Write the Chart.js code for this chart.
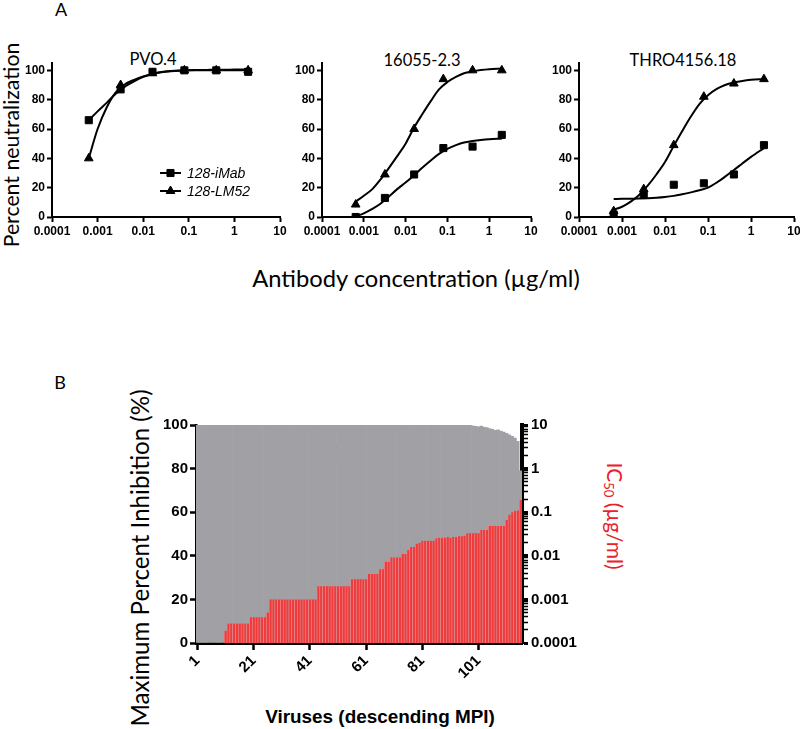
<!DOCTYPE html>
<html><head><meta charset="utf-8">
<script src="https://cdn.jsdelivr.net/npm/chart.js@4.4.1/dist/chart.umd.min.js"></script>
<style>
html,body{margin:0;padding:0;background:#fff;overflow:hidden;width:800px;height:729px;position:relative;}
canvas{position:absolute;}
.t{position:absolute;white-space:nowrap;color:#000;line-height:1;font-family:Lato,'Open Sans',sans-serif;transform:translate(-50%,-50%);}
.rot{transform:translate(-50%,-50%) rotate(-90deg);}
.rotR{transform:translate(-50%,-50%) rotate(90deg);}
sub{font-size:0.62em;vertical-align:-0.25em;line-height:0;}
</style></head><body>

<div class="t" style="left:61px;top:9px;font-size:18px">A</div>
<div class="t" style="left:60px;top:382px;font-size:18px">B</div>
<div class="t" data-w="47" style="left:153px;top:59px;font-size:18px">PVO.4</div>
<div class="t" data-w="77" style="left:422px;top:60px;font-size:18px">16055-2.3</div>
<div class="t" data-w="107" style="left:683px;top:60px;font-size:18px">THRO4156.18</div>
<div class="t rot" data-w="205" style="left:12px;top:145px;font-size:22px">Percent neutralization</div>
<div class="t" data-w="328" style="left:416px;top:279px;font-size:22px">Antibody concentration (µg/ml)</div>
<div class="t rot" data-w="337" style="left:140px;top:558px;font-size:22px">Maximum Percent Inhibition (%)</div>
<div class="t rotR" data-w="107" style="left:616px;top:516px;font-size:20px;color:#e8222a">IC<sub>50</sub> (µg/ml)</div>
<div class="t" data-w="78" style="left:329px;top:452px;font-size:19px">128-LM52</div>
<div class="t" data-w="230" style="left:380px;top:717px;font-size:19px;font-family:Arial,'Liberation Sans',sans-serif;font-weight:bold">Viruses (descending MPI)</div>

<canvas id="c1" width="295" height="200" style="left:0px;top:40px"></canvas>
<canvas id="c2" width="260" height="200" style="left:285px;top:40px"></canvas>
<canvas id="c3" width="258" height="200" style="left:545px;top:40px"></canvas>
<canvas id="cB" width="560" height="349" style="left:100px;top:380px"></canvas>

<script>
// ---------- Panel A data ----------
const concentrations = [0.00064, 0.0032, 0.016, 0.08, 0.4, 2];
const fitConc = [0.00064, 0.001, 0.0016, 0.0025, 0.004, 0.0063, 0.01, 0.016, 0.025, 0.04, 0.063, 0.1, 0.16, 0.25, 0.4, 0.63, 1, 2];
const legendLabels = ['128-iMab', '128-LM52'];

const pvo4_iMab = [66, 87, 99, 100, 100, 99];
const pvo4_LM52 = [40, 90, 98, 100, 100, 100];
const pvo4_iMabFit = [66, 72, 78, 84, 89, 92.5, 95.5, 97.5, 98.7, 99.4, 99.8, 100, 100, 100, 100, 100, 100, 100];
const pvo4_LM52Fit = [40, 60, 75, 85, 90.5, 93.5, 95.8, 97.6, 98.8, 99.5, 99.9, 100.1, 100.2, 100.3, 100.4, 100.4, 100.5, 100.5];

const v16055_iMab = [0, 13, 29, 47, 48, 56];
const v16055_LM52 = [8.5, 29, 60, 94, 100, 100];
const v16055_iMabFit = [0.5, 2.5, 5.5, 9, 14, 19, 23.5, 28.5, 33.5, 38.5, 43, 46.5, 49, 50.8, 51.8, 52.5, 53, 53.4];
const v16055_LM52Fit = [10.5, 14.5, 19, 25.5, 33.5, 41.5, 50, 61, 70, 79, 87, 92, 95.5, 98, 99.3, 100.2, 100.8, 101.2];

const thro_iMab = [1.5, 15, 22, 23, 29, 49];
const thro_LM52 = [4, 19, 49, 82, 91, 94];
const thro_iMabFit = [12.3, 12.4, 12.5, 12.6, 12.8, 13.1, 13.6, 14.4, 15.5, 16.8, 18.2, 20, 23.5, 27.5, 32, 36.5, 41, 47];
const thro_LM52Fit = [5, 7, 10.5, 15, 21.5, 29, 37.5, 48.5, 58.5, 68.5, 77, 83, 87.3, 90, 91.7, 92.8, 93.5, 94];

const concTickValues = [0.0001, 0.001, 0.01, 0.1, 1, 10];
const concTickLabels = ['0.0001', '0.001', '0.01', '0.1', '1', '10'];
const neutTicks = [0, 20, 40, 60, 80, 100];

// ---------- Panel B data ----------
const virusTicks = [1, 21, 41, 61, 81, 101];
const mpi = [
100,100,100,100,100,100,100,100,100,100,
100,100,100,100,100,100,100,100,100,100,
100,100,100,100,100,100,100,100,100,100,
100,100,100,100,100,100,100,100,100,100,
100,100,100,100,100,100,100,100,100,100,
100,100,100,100,100,100,100,100,100,100,
100,100,100,100,100,100,100,100,100,100,
100,100,100,100,100,100,100,100,100,100,
100,100,100,100,100,100,100,100,100,100,
100,100,100,100,100,100,100,100,
99.6,99.4,99.2,99.5,99.0,98.8,98.4,98.0,97.6,97.8,
97.2,96.8,96.2,95.5,94.8,94.0,92.5,79];
const ic50 = [
null,null,null,null,null,null,null,null,null,null,
0.00019,
0.00028,0.00028,0.00028,0.00028,0.00028,0.00028,0.00028,0.00028,
0.00039,0.00039,0.00039,0.00039,0.00039,0.00039,
0.0005,
0.001,0.001,0.001,0.001,0.001,0.001,0.001,0.001,0.001,0.001,0.001,0.001,0.001,0.001,0.001,0.001,0.001,
0.002,0.002,0.002,0.002,0.002,0.002,0.002,0.002,0.002,0.002,0.002,0.002,
0.0029,0.0029,0.0029,0.0029,0.0029,0.0029,
0.0038,0.0038,0.0038,0.0038,
0.0049,0.0049,
0.0073,0.0073,
0.0092,0.0092,0.0092,0.0092,
0.011,0.011,
0.0135,
0.016,0.016,
0.019,0.02,
0.022,0.022,0.022,0.022,0.022,
0.025,0.026,0.026,0.026,0.027,0.026,0.027,0.027,0.028,0.028,0.029,
0.033,0.033,0.033,0.033,0.033,
0.039,0.039,0.039,
0.048,0.048,0.048,0.048,0.048,0.048,
0.066,
0.087,
0.1,0.108,0.11,
0.19];
const icTickValues = [0.0001, 0.001, 0.01, 0.1, 1, 10];
const icTickLabels = ['0.0001', '0.001', '0.01', '0.1', '1', '10'];
const mpiTicks = [0, 20, 40, 60, 80, 100];

// ---------- text fitting ----------
document.querySelectorAll('[data-w]').forEach(el => {
  const w = el.offsetWidth;
  const fs = parseFloat(getComputedStyle(el).fontSize);
  el.style.fontSize = (fs * parseFloat(el.dataset.w) / w) + 'px';
});

Chart.defaults.font.family = 'Arial';
Chart.defaults.color = '#000';
Chart.defaults.animation = false;

const tickFontA = {family: 'Arial', weight: 'bold', size: 12};

const legendA = {
  id: 'legendA',
  afterDraw(chart) {
    const ctx = chart.ctx;
    const rows = [{label: legendLabels[0], style: 'rect', y: 133}, {label: legendLabels[1], style: 'triangle', y: 151}];
    ctx.save();
    rows.forEach(row => {
      ctx.strokeStyle = '#000'; ctx.lineWidth = 2;
      ctx.beginPath(); ctx.moveTo(160, row.y); ctx.lineTo(181, row.y); ctx.stroke();
      ctx.fillStyle = '#000'; ctx.lineWidth = 1;
      Chart.helpers.drawPoint(ctx, {pointStyle: row.style, radius: 5, borderWidth: 1, rotation: 0}, 170.5, row.y);
      ctx.font = 'italic 14px Arial';
      ctx.textBaseline = 'middle'; ctx.textAlign = 'left';
      ctx.fillText(row.label, 187, row.y + 1);
    });
    ctx.restore();
  }
};

function makeA(id, yW, padRight, sq, tri, sqFit, triFit, withLegend) {
  const pts = (xs, ys) => xs.map((x, i) => ({x: x, y: ys[i]}));
  new Chart(document.getElementById(id), {
    type: 'scatter',
    data: {datasets: [
      {data: pts(fitConc, sqFit), showLine: true, borderColor: '#000', borderWidth: 2, pointRadius: 0, cubicInterpolationMode: 'monotone'},
      {data: pts(fitConc, triFit), showLine: true, borderColor: '#000', borderWidth: 2, pointRadius: 0, cubicInterpolationMode: 'monotone'},
      {data: pts(concentrations, sq), pointStyle: 'rect', pointRadius: 5, backgroundColor: '#000', borderColor: '#000', borderWidth: 1},
      {data: pts(concentrations, tri), pointStyle: 'triangle', pointRadius: 5, backgroundColor: '#000', borderColor: '#000', borderWidth: 1}
    ]},
    options: {
      responsive: false, animation: false,
      layout: {padding: {top: 23, right: padRight, bottom: 0, left: 0}},
      plugins: {legend: {display: false}, tooltip: {enabled: false}},
      scales: {
        x: {type: 'logarithmic', min: 0.0001, max: 10, offset: false,
            afterBuildTicks: s => { s.ticks = concTickValues.map(v => ({value: v})); },
            ticks: {callback: (v, i) => concTickLabels[i], font: tickFontA, color: '#000', padding: 2, maxRotation: 0, autoSkip: false},
            grid: {display: true, drawOnChartArea: false, tickLength: 5, tickWidth: 2, tickColor: '#000'},
            border: {display: true, color: '#000', width: 2},
            afterFit: s => { s.height = 23; }},
        y: {type: 'linear', min: 0, max: 105,
            afterBuildTicks: s => { s.ticks = neutTicks.map(v => ({value: v})); },
            ticks: {font: tickFontA, color: '#000', padding: 2},
            grid: {display: true, drawOnChartArea: false, tickLength: 5, tickWidth: 2, tickColor: '#000'},
            border: {display: true, color: '#000', width: 2},
            afterFit: s => { s.width = yW; }}
      }
    },
    plugins: withLegend ? [legendA] : []
  });
}

makeA('c1', 52, 15, pvo4_iMab, pvo4_LM52, pvo4_iMabFit, pvo4_LM52Fit, true);
makeA('c2', 37, 14, v16055_iMab, v16055_LM52, v16055_iMabFit, v16055_LM52Fit, false);
makeA('c3', 34, 9, thro_iMab, thro_LM52, thro_iMabFit, thro_LM52Fit, false);

// ---------- Panel B ----------
const virusIdx = mpi.map((_, i) => i + 1);
const tickFontB = {family: 'Arial', weight: 'bold', size: 15};
const icAllTicks = [];
for (let d = 0; d < icTickValues.length; d++) {
  icAllTicks.push(icTickValues[d]);
  if (d < icTickValues.length - 1) for (let k = 2; k <= 9; k++) icAllTicks.push(k * icTickValues[d]);
}
const icPoints = virusIdx.map((v, i) => ({x: v, y: ic50[i]})).filter(p => p.y !== null);

new Chart(document.getElementById('cB'), {
  type: 'bar',
  data: {datasets: [
    {label: 'IC50', data: icPoints, yAxisID: 'y2',
     backgroundColor: '#ef3b3d', borderColor: '#e98c8c', borderWidth: {left: 0.8, right: 0, top: 0, bottom: 0},
     borderSkipped: false, barPercentage: 1, categoryPercentage: 1, grouped: false, order: 1},
    {label: 'MPI', data: virusIdx.map((v, i) => ({x: v, y: mpi[i]})), yAxisID: 'y',
     backgroundColor: '#a1a1a5', borderWidth: 0, barPercentage: 1, categoryPercentage: 1, grouped: false, order: 2}
  ]},
  options: {
    responsive: false, animation: false,
    layout: {padding: {top: 45, right: 0, bottom: 0, left: 0}},
    plugins: {legend: {display: false}, tooltip: {enabled: false}},
    scales: {
      x: {type: 'linear', min: 0.5, max: mpi.length + 0.5, offset: false,
          afterBuildTicks: s => { s.ticks = virusTicks.map(v => ({value: v})); },
          ticks: {font: tickFontB, color: '#000', minRotation: 45, maxRotation: 45, autoSkip: false, padding: 2,
                  callback: v => String(v)},
          grid: {display: true, drawOnChartArea: false, offset: false, tickLength: 7, tickWidth: 2.5, tickColor: '#000'},
          border: {display: true, color: '#000', width: 3},
          afterFit: s => { s.height = 86; }},
      y: {type: 'linear', position: 'left', min: 0, max: 100,
          afterBuildTicks: s => { s.ticks = mpiTicks.map(v => ({value: v})); },
          ticks: {font: tickFontB, color: '#000', padding: 2},
          grid: {display: true, drawOnChartArea: false, tickLength: 6, tickWidth: 2.5, tickColor: '#000'},
          border: {display: true, color: '#000', width: 2.5},
          afterFit: s => { s.width = 96; }},
      y2: {type: 'logarithmic', position: 'right', min: 0.0001, max: 10,
          afterBuildTicks: s => { s.ticks = icAllTicks.map(v => ({value: v})); },
          ticks: {font: tickFontB, color: '#000', padding: 3, autoSkip: false,
                  callback: v => { const k = icTickValues.indexOf(v); return k >= 0 ? icTickLabels[k] : ''; }},
          grid: {display: true, drawOnChartArea: false, tickLength: 6, tickColor: '#000',
                 tickWidth: c => (icTickValues.indexOf(c.tick && c.tick.value) >= 0 ? 3 : 1.5)},
          border: {display: true, color: '#000', width: 4},
          afterFit: s => { s.width = 138; }}
    }
  }
});
</script>
</body></html>
